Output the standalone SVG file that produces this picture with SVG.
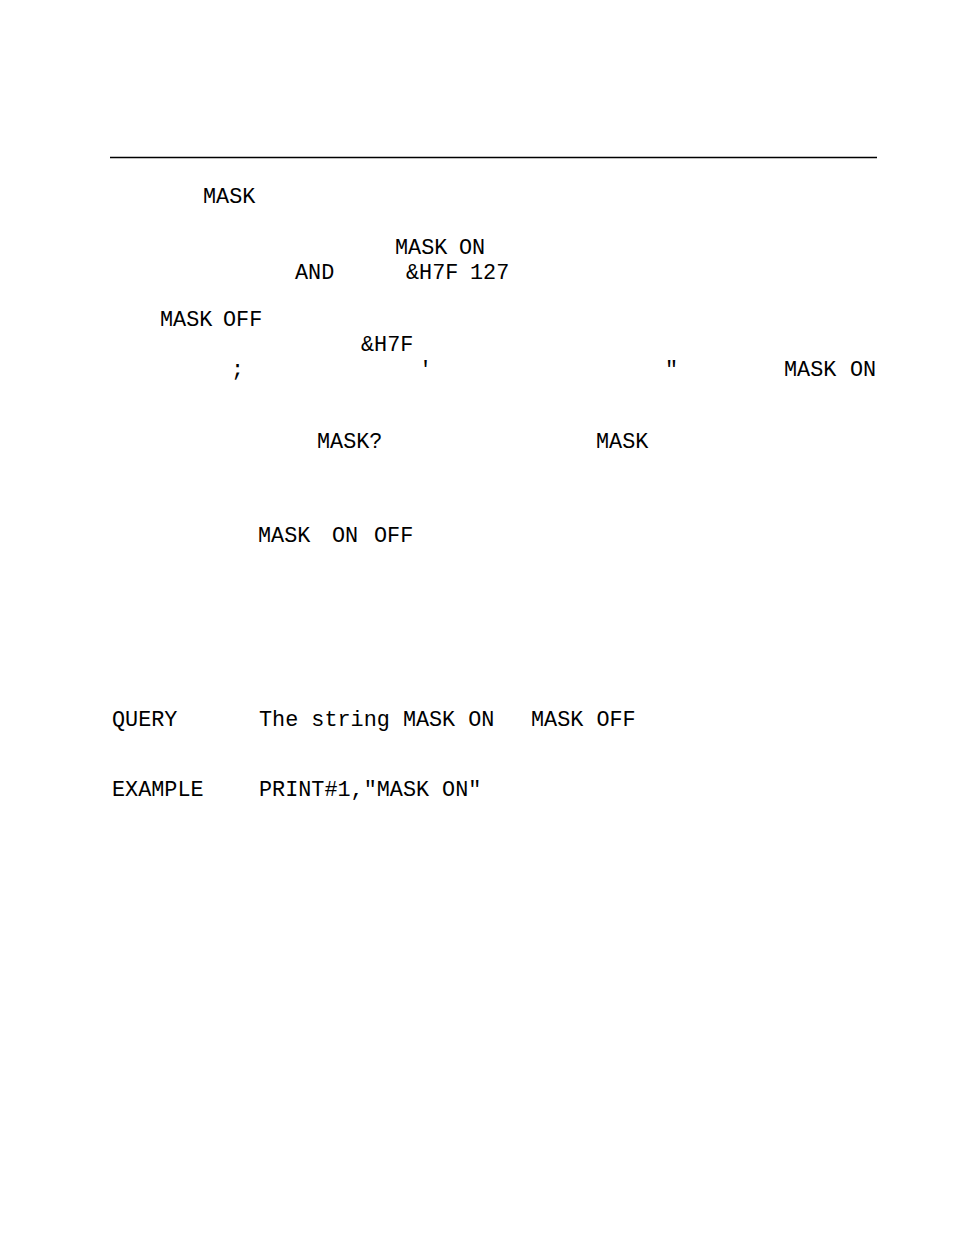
<svg xmlns="http://www.w3.org/2000/svg" width="954" height="1235" viewBox="0 0 954 1235">
<style>text{font-family:"Liberation Mono","DejaVu Sans Mono",monospace;font-size:21.8px;fill:#000}</style>
<rect width="954" height="1235" fill="#fff"/>
<line x1="110" y1="157.5" x2="877" y2="157.5" stroke="#000" stroke-width="1.3"/>
<g id="text">
<text x="203" y="203">MASK</text>
<text x="395" y="254">MASK</text><text x="459" y="254">ON</text>
<text x="295" y="279">AND</text><text x="406" y="279">&amp;H7F</text><text x="470" y="279">127</text>
<text x="160" y="326">MASK</text><text x="223" y="326">OFF</text>
<text x="361" y="351">&amp;H7F</text>
<text x="231" y="376">;</text><text x="419" y="376">'</text><text x="665" y="376">"</text><text x="784" y="376">MASK</text><text x="850" y="376">ON</text>
<text x="317" y="448">MASK?</text><text x="596" y="448">MASK</text>
<text x="258" y="542">MASK</text><text x="332" y="542">ON</text><text x="374" y="542">OFF</text>
<text x="112" y="726">QUERY</text><text x="259" y="726">The string MASK ON</text><text x="531" y="726">MASK OFF</text>
<text x="112" y="796">EXAMPLE</text><text x="259" y="796">PRINT#1,"MASK ON"</text>
</g>
</svg>
